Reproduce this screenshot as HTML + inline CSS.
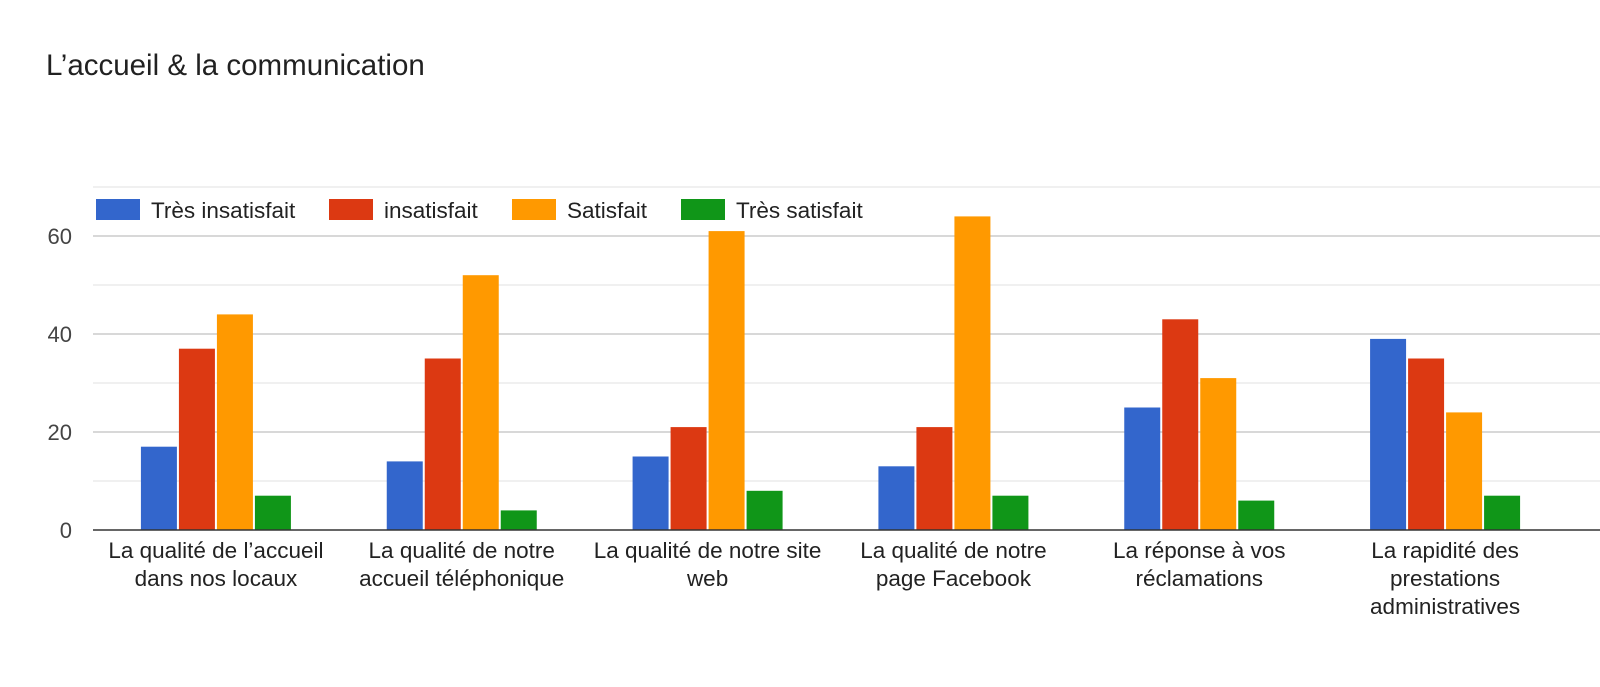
<!DOCTYPE html>
<html><head><meta charset="utf-8"><style>
body{margin:0;background:#fff;font-family:"Liberation Sans",Arial,sans-serif;}
svg text{font-family:"Liberation Sans",Arial,sans-serif;}
</style></head><body>
<svg id="c" width="1600" height="682" xmlns="http://www.w3.org/2000/svg">
<rect width="1600" height="682" fill="#fff"/>
<text x="46" y="75" font-size="29.5" fill="#212121">L’accueil &amp; la communication</text>
<g id="grid"></g><g id="bars"></g><g id="labels"></g><g id="legend"></g>
</svg>
<script>
const categories=[["La qualité de l’accueil","dans nos locaux"],["La qualité de notre","accueil téléphonique"],["La qualité de notre site","web"],["La qualité de notre","page Facebook"],["La réponse à vos","réclamations"],["La rapidité des","prestations","administratives"]];
const seriesNames=["Très insatisfait","insatisfait","Satisfait","Très satisfait"];
const tresInsatisfait=[17,14,15,13,25,39];
const insatisfait=[37,35,21,21,43,35];
const satisfait=[44,52,61,64,31,24];
const tresSatisfait=[7,4,8,7,6,7];
const tickLabels=[0,20,40,60];
const colors=["#3366cc","#dc3912","#ff9900","#109618"];
const series=[tresInsatisfait,insatisfait,satisfait,tresSatisfait];
const NS="http://www.w3.org/2000/svg";
const x0=93,x1=1568,y0=530,pxPerUnit=4.9;
const yS=v=>y0-v*pxPerUnit;
const gw=(x1-x0)/categories.length;
function mk(t,a,p){const e=document.createElementNS(NS,t);for(const k in a)e.setAttribute(k,a[k]);p.appendChild(e);return e;}
const grid=document.getElementById('grid');
for(let v=10;v<=70;v+=10){const l=mk('line',{x1:x0,x2:1600,y1:yS(v),y2:yS(v),stroke:v%20==0?'#cccccc':'#ebebeb','stroke-width':1.5},grid);

}
tickLabels.forEach(v=>{const t=mk('text',{x:72,y:yS(v)+8,'text-anchor':'end','font-size':22,fill:'#444'},grid);t.textContent=v;

});
const bars=document.getElementById('bars');
const bw=36,step=38;
categories.forEach((c,i)=>{const cx=x0+gw*(i+0.5);
series.forEach((s,j)=>{const x=cx-2*step+j*step+1;const r=mk('rect',{x:x,y:yS(s[i]),width:bw,height:s[i]*pxPerUnit,fill:colors[j]},bars);

});
c.forEach((ln,k)=>{const t=mk('text',{x:cx,y:558+k*28,'text-anchor':'middle','font-size':22.5,fill:'#222'},document.getElementById('labels'));t.textContent=ln;

});});
const base=mk('line',{x1:x0,x2:1600,y1:y0,y2:y0,stroke:'#333','stroke-width':1.5},bars);


const lg=document.getElementById('legend');const lx=[96,329,512,681];
seriesNames.forEach((n,j)=>{const g=mk('g',{},lg);


mk('rect',{x:lx[j],y:199,width:44,height:21,fill:colors[j]},g);
const t=mk('text',{x:lx[j]+55,y:218,'font-size':22.5,fill:'#222'},g);t.textContent=n;});
</script>
</body></html>
